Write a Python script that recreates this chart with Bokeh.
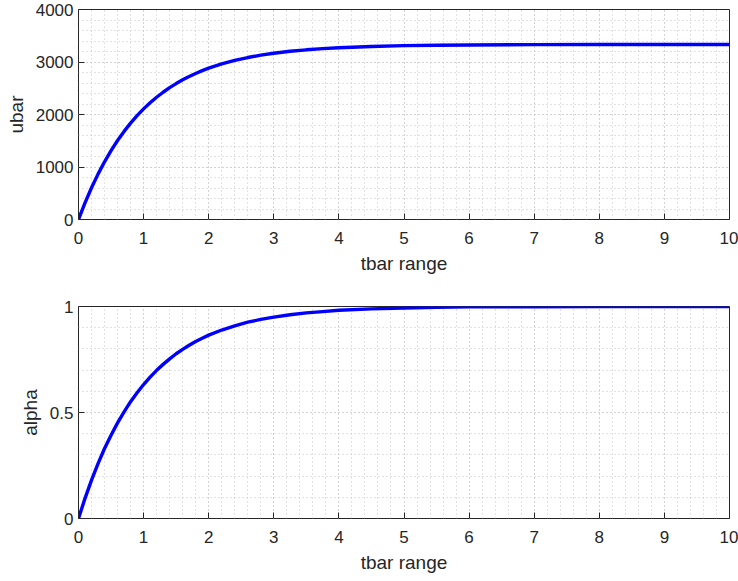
from bokeh.plotting import figure
from bokeh.layouts import column
from bokeh.models import Range1d, FixedTicker
from bokeh.embed import file_html
from bokeh.resources import INLINE

# Data
tbar = [0, 0.1, 0.2, 0.3, 0.4, 0.5, 0.6, 0.7, 0.8, 0.9, 1.0, 1.1, 1.2, 1.3, 1.4,
        1.5, 1.6, 1.7, 1.8, 1.9, 2.0, 2.2, 2.4, 2.6, 2.8, 3.0, 3.25, 3.5, 3.75,
        4.0, 4.5, 5.0, 5.5, 6.0, 7.0, 8.0, 9.0, 10.0]
ubar = [0, 317, 604, 864, 1099, 1311, 1504, 1678, 1835, 1978, 2107, 2224, 2329,
        2424, 2511, 2589, 2660, 2724, 2782, 2835, 2882, 2964, 3031, 3085, 3130,
        3167, 3204, 3232, 3254, 3272, 3296, 3311, 3320, 3325, 3330, 3332, 3333,
        3333]
alpha = [0, 0.095, 0.181, 0.259, 0.330, 0.393, 0.451, 0.503, 0.551, 0.593,
         0.632, 0.667, 0.699, 0.727, 0.753, 0.777, 0.798, 0.817, 0.835, 0.850,
         0.865, 0.889, 0.909, 0.926, 0.939, 0.950, 0.961, 0.970, 0.976, 0.982,
         0.989, 0.993, 0.996, 0.998, 0.999, 1.0, 1.0, 1.0]

x_ticks = [0, 1, 2, 3, 4, 5, 6, 7, 8, 9, 10]
ubar_ticks = [0, 1000, 2000, 3000, 4000]
alpha_ticks = [0, 0.5, 1]

AX = "#262626"
FONT = "Liberation Sans"
TICK_FS = "17px"
LAB_FS = "19px"
GRID = "#c4c4c4"


def style_axis(ax):
    ax.axis_line_color = None
    ax.major_tick_in = 6
    ax.major_tick_out = 0
    ax.major_tick_line_color = AX
    ax.minor_tick_in = 0
    ax.minor_tick_out = 0
    ax.major_label_text_font = FONT
    ax.major_label_text_color = AX
    ax.major_label_text_font_size = TICK_FS
    ax.axis_label_text_font = FONT
    ax.axis_label_text_color = AX
    ax.axis_label_text_font_style = "normal"
    ax.axis_label_text_font_size = LAB_FS


def make_fig(x, y, ylabel, yticks, yminor, ymax, height, top, bottom):
    p = figure(width=738, height=height, output_backend="svg", toolbar_location=None,
               x_range=Range1d(0, 10), y_range=Range1d(0, ymax),
               min_border_left=78, min_border_right=9,
               min_border_top=top, min_border_bottom=bottom)
    p.line(x, y, line_color="#0000ff", line_width=3.4)
    p.xaxis.ticker = FixedTicker(ticks=x_ticks,
                                 minor_ticks=[i * 0.2 for i in range(51)])
    p.yaxis.ticker = FixedTicker(ticks=yticks, minor_ticks=yminor)
    p.xaxis.axis_label = "tbar range"
    p.yaxis.axis_label = ylabel
    p.xaxis.major_label_standoff = 12
    p.yaxis.major_label_standoff = 5
    p.xaxis.axis_label_standoff = 6
    p.yaxis.axis_label_standoff = 6
    for ax in p.xaxis + p.yaxis:
        style_axis(ax)
    for g in (p.xgrid[0], p.ygrid[0]):
        g.grid_line_color = GRID
        g.grid_line_dash = "1 3"
        g.grid_line_width = 1
        g.minor_grid_line_color = GRID
        g.minor_grid_line_dash = "1 3"
        g.minor_grid_line_width = 1
    p.outline_line_color = AX
    p.outline_line_width = 1
    p.background_fill_color = "white"
    p.border_fill_color = "white"
    return p


p1 = make_fig(tbar, ubar, "ubar", ubar_ticks, [i * 200 for i in range(21)],
              4000, 290, 9, 71)
p2 = make_fig(tbar, alpha, "alpha", alpha_ticks, [i * 0.1 for i in range(11)],
              1, 291, 16, 63)

layout = column(p1, p2, spacing=0)
open("out.html", "w").write(file_html(layout, INLINE))
